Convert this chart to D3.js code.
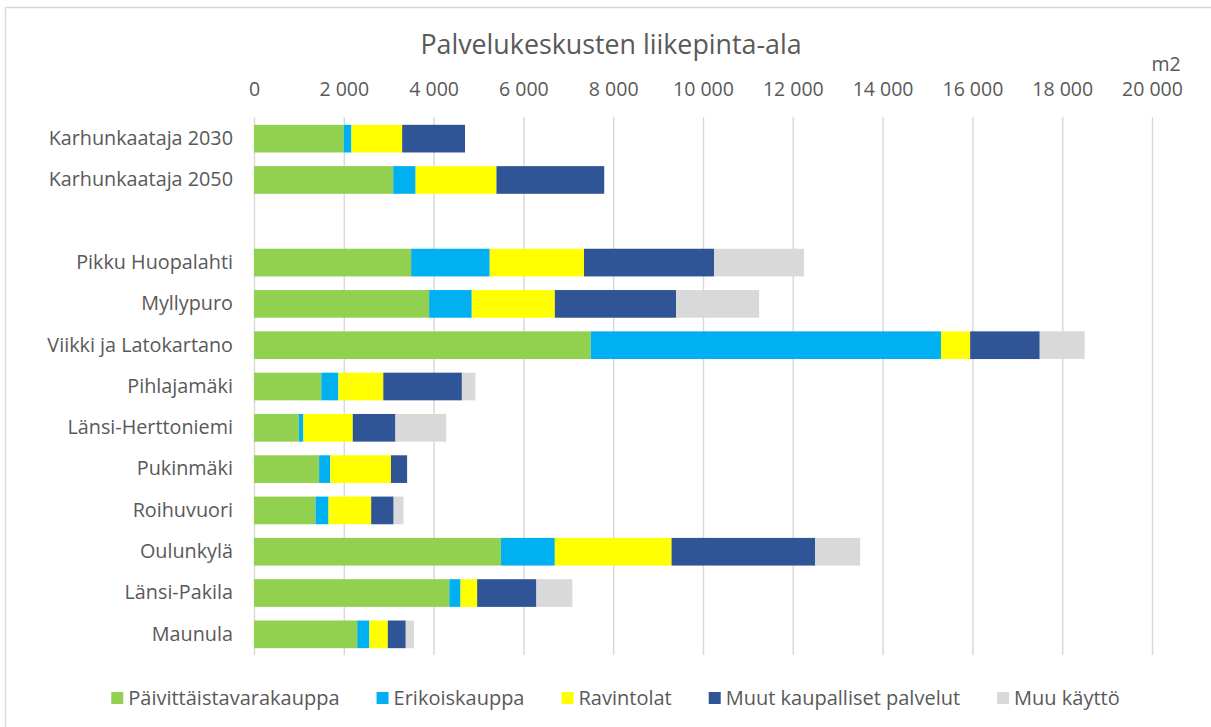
<!DOCTYPE html>
<html>
<head>
<meta charset="utf-8">
<script src="https://cdn.jsdelivr.net/npm/d3@7"></script>
<style>
  body { margin: 0; background: #fff; }
  text { font-family: "Open Sans", sans-serif; fill: #595959; }
</style>
</head>
<body>
<div id="chart"></div>
<script>
// Data (m2)
const categories = ["Karhunkaataja 2030", "Karhunkaataja 2050", "",
  "Pikku Huopalahti", "Myllypuro", "Viikki ja Latokartano", "Pihlajamäki",
  "Länsi-Herttoniemi", "Pukinmäki", "Roihuvuori", "Oulunkylä", "Länsi-Pakila", "Maunula"];
const paivittaistavara = [2000, 3100, 0, 3500, 3900, 7500, 1500, 1000, 1450, 1370, 5500, 4350, 2300];
const erikoiskauppa    = [170, 500, 0, 1750, 950, 7800, 380, 100, 250, 290, 1200, 250, 270];
const ravintolat       = [1130, 1800, 0, 2100, 1850, 650, 1000, 1100, 1350, 950, 2600, 370, 410];
const muutPalvelut     = [1400, 2400, 0, 2900, 2700, 1550, 1750, 950, 360, 500, 3200, 1320, 400];
const muuKaytto        = [0, 0, 0, 2000, 1850, 1000, 300, 1130, 0, 220, 1000, 800, 180];
const seriesNames = ["Päivittäistavarakauppa", "Erikoiskauppa", "Ravintolat", "Muut kaupalliset palvelut", "Muu käyttö"];
const seriesKeys = ["p", "e", "r", "m", "k"];
const colors = ["#92d050", "#00b0f0", "#ffff00", "#2f5597", "#d9d9d9"];
const xTicks = [0, 2000, 4000, 6000, 8000, 10000, 12000, 14000, 16000, 18000, 20000];

const width = 1211, height = 727;

const rows = categories.map((c, i) => ({
  i: i, name: c,
  p: paivittaistavara[i], e: erikoiskauppa[i], r: ravintolat[i],
  m: muutPalvelut[i], k: muuKaytto[i]
}));

const svg = d3.select("#chart").append("svg")
  .attr("width", width)
  .attr("height", height);

// chart frame (only top and left edges show)
svg.append("path")
  .attr("d", `M5.5,${height} L5.5,7.5 L${width},7.5`)
  .attr("fill", "none")
  .attr("stroke", "#d9d9d9")
  .attr("stroke-width", 1.5);

const x = d3.scaleLinear().domain([0, 20000]).range([254, 1152]);
const y = d3.scaleBand()
  .domain(d3.range(categories.length))
  .range([118, 655])
  .paddingInner(0.33)
  .paddingOuter(0.165);

// gridlines
const grid = svg.append("g")
  .attr("transform", "translate(0,117)")
  .call(d3.axisBottom(x).tickValues(xTicks).tickSize(538).tickFormat(""));
grid.select(".domain").remove();
grid.selectAll("line").attr("stroke", "#d9d9d9").attr("stroke-width", 1.5);

// top axis labels
const fmt = v => d3.format(",")(v).replace(/,/g, " ");
const xAxis = svg.append("g")
  .attr("transform", "translate(0,96)")
  .call(d3.axisTop(x).tickValues(xTicks).tickSize(0).tickPadding(0).tickFormat(fmt));
xAxis.select(".domain").remove();
xAxis.selectAll("text").attr("font-size", 19.5).attr("fill", "#595959")
  .style("font-family", "'Open Sans', sans-serif");

// category labels
const yAxis = svg.append("g")
  .attr("transform", "translate(254,0)")
  .call(d3.axisLeft(y).tickSize(0).tickPadding(21).tickFormat(i => categories[i]));
yAxis.select(".domain").remove();
yAxis.selectAll("text").attr("font-size", 19.8).attr("fill", "#595959")
  .style("font-family", "'Open Sans', sans-serif");

// stacked bars
const stacked = d3.stack().keys(seriesKeys)(rows);
svg.append("g").selectAll("g")
  .data(stacked)
  .join("g")
    .attr("fill", (d, i) => colors[i])
  .selectAll("rect")
  .data(d => d.filter(s => s[1] - s[0] > 0))
  .join("rect")
    .attr("x", d => x(d[0]))
    .attr("y", d => y(d.data.i))
    .attr("width", d => x(d[1]) - x(d[0]))
    .attr("height", y.bandwidth());

// title and unit
svg.append("text")
  .attr("x", 611).attr("y", 54)
  .attr("text-anchor", "middle")
  .attr("font-size", 26.8)
  .text("Palvelukeskusten liikepinta-ala");

svg.append("text")
  .attr("x", 1166).attr("y", 71)
  .attr("text-anchor", "middle")
  .attr("font-size", 19.5)
  .text("m2");

// legend
const legend = svg.append("g").attr("transform", "translate(0,698)");
let lx = 0;
seriesNames.forEach((name, i) => {
  const g = legend.append("g");
  g.append("rect").attr("x", 0).attr("y", -6).attr("width", 12).attr("height", 12).attr("fill", colors[i]);
  const t = g.append("text").attr("x", 17).attr("y", 7).attr("font-size", 20).text(name);
  const w = 17 + t.node().getComputedTextLength();
  g.attr("transform", `translate(${lx},0)`);
  lx += w + 37;
});
const legendWidth = lx - 37;
legend.attr("transform", `translate(${615.5 - legendWidth / 2},698)`);
</script>
</body>
</html>
